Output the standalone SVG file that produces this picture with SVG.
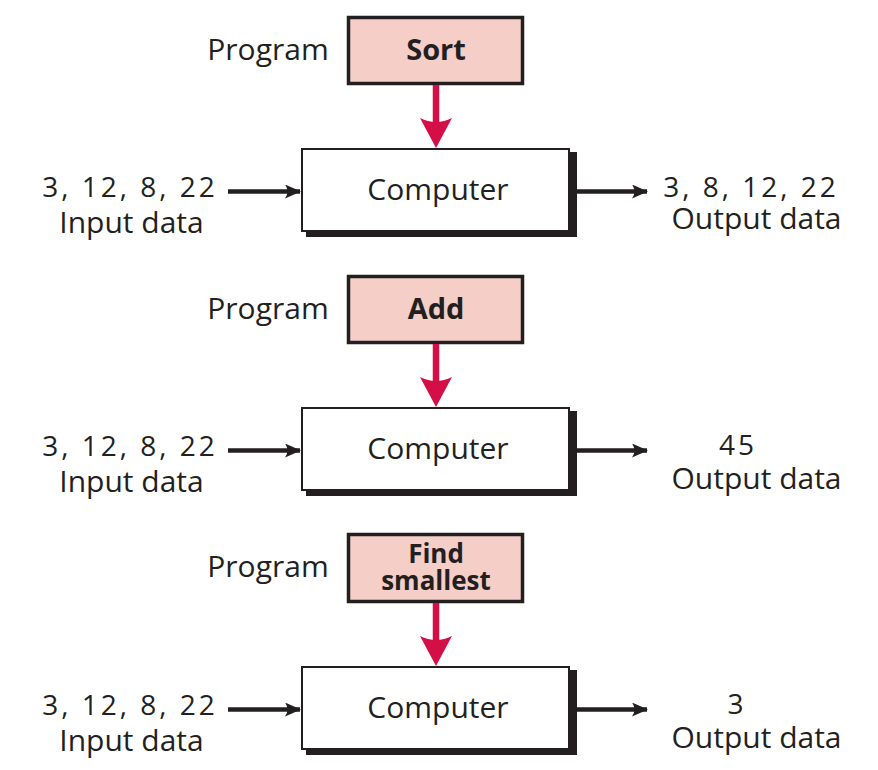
<svg xmlns="http://www.w3.org/2000/svg" width="878" height="770" viewBox="0 0 878 770">
<defs>
<style>
text{font-family:"Open Sans","Noto Sans","Liberation Sans",sans-serif;fill:#231F20;text-anchor:middle}
.lbl{font-size:30px}
.num{font-size:28px;letter-spacing:3px}
.prog{font-size:29px;font-weight:bold}
.prog2{font-size:26px;font-weight:bold}
.pbox{fill:#F5CEC7;stroke:#231F20;stroke-width:3.5}
.cbox{fill:#fff;stroke:#231F20;stroke-width:2}
.shadow{fill:#231F20}
.red{stroke:#D40F47;stroke-width:6.5;fill:none}
.redhead{fill:#D40F47}
.blk{stroke:#231F20;stroke-width:4.5;fill:none}
</style>
<marker id="ah" viewBox="0 0 16 14" refX="15" refY="7" markerWidth="16" markerHeight="14" markerUnits="userSpaceOnUse" orient="auto">
<path d="M0,0 Q5,7 0,14 L16,7 Z" fill="#231F20"/>
</marker>
</defs>

<g id="section1">
<g id="program1"><text class="lbl" x="268" y="60">Program</text></g>
<g id="sort"><rect class="pbox" x="348.5" y="17.5" width="174" height="66"/><text class="prog" x="436" y="60">Sort</text></g>
<g id="computer1"><rect class="shadow" x="306" y="152" width="271" height="85"/><rect class="cbox" x="302" y="149" width="267" height="82"/><text class="lbl" x="438" y="200">Computer</text></g>
<g id="input1"><text class="num" x="130" y="197">3, 12, 8, 22</text><text class="lbl" x="131.5" y="233">Input data</text></g>
<g id="output1"><text class="num" x="751" y="197">3, 8, 12, 22</text><text class="lbl" x="756.5" y="229">Output data</text></g>
</g>

<g id="section2">
<g id="program2"><text class="lbl" x="268" y="319">Program</text></g>
<g id="add"><rect class="pbox" x="348.5" y="276.5" width="174" height="66"/><text class="prog" x="436" y="319">Add</text></g>
<g id="computer2"><rect class="shadow" x="306" y="411" width="271" height="85"/><rect class="cbox" x="302" y="408" width="267" height="82"/><text class="lbl" x="438" y="459">Computer</text></g>
<g id="input2"><text class="num" x="130" y="456">3, 12, 8, 22</text><text class="lbl" x="131.5" y="492">Input data</text></g>
<g id="output2"><text class="num" x="738" y="455">45</text><text class="lbl" x="756.5" y="489">Output data</text></g>
</g>

<g id="section3">
<g id="program3"><text class="lbl" x="268" y="577">Program</text></g>
<g id="findsmallest"><rect class="pbox" x="348.5" y="534.5" width="174" height="67"/><text class="prog2" x="436" y="563">Find</text><text class="prog2" x="436" y="590">smallest</text></g>
<g id="computer3"><rect class="shadow" x="306" y="670" width="271" height="85"/><rect class="cbox" x="302" y="667" width="267" height="82"/><text class="lbl" x="438" y="718">Computer</text></g>
<g id="input3"><text class="num" x="130" y="715">3, 12, 8, 22</text><text class="lbl" x="131.5" y="751">Input data</text></g>
<g id="output3"><text class="num" x="737" y="714">3</text><text class="lbl" x="756.5" y="748">Output data</text></g>
</g>

<g id="connectors">
<line class="red" x1="436" y1="85" x2="436" y2="122"/>
<path class="redhead" d="M420,118 Q436,126 452,118 L436,148 Z"/>
<line class="blk" x1="228" y1="191.5" x2="300" y2="191.5" marker-end="url(#ah)"/>
<line class="blk" x1="577" y1="191.5" x2="647" y2="191.5" marker-end="url(#ah)"/>

<line class="red" x1="436" y1="344" x2="436" y2="381"/>
<path class="redhead" d="M420,377 Q436,385 452,377 L436,407 Z"/>
<line class="blk" x1="228" y1="450.5" x2="300" y2="450.5" marker-end="url(#ah)"/>
<line class="blk" x1="577" y1="450.5" x2="647" y2="450.5" marker-end="url(#ah)"/>

<line class="red" x1="436" y1="603" x2="436" y2="640"/>
<path class="redhead" d="M420,636 Q436,644 452,636 L436,666 Z"/>
<line class="blk" x1="228" y1="709.5" x2="300" y2="709.5" marker-end="url(#ah)"/>
<line class="blk" x1="577" y1="709.5" x2="647" y2="709.5" marker-end="url(#ah)"/>
</g>
</svg>
